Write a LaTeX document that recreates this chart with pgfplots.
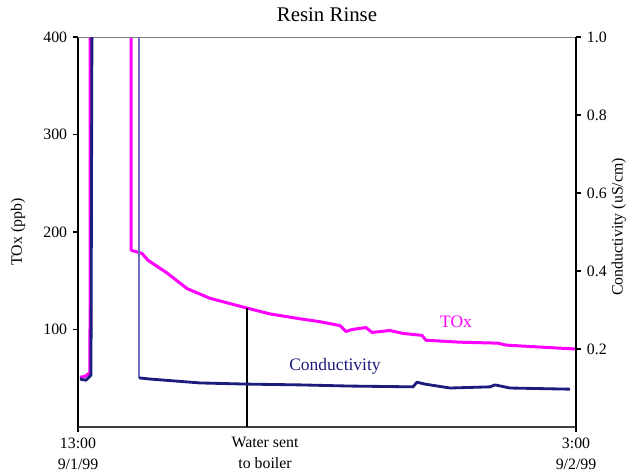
\documentclass[border=0pt]{standalone}
\usepackage{fontspec}
\setmainfont{Liberation Serif}
\usepackage{pgfplots}
\pgfplotsset{compat=1.18}

\definecolor{tox}{RGB}{255,0,255}
\definecolor{cond}{RGB}{28,28,124}
\definecolor{condlight}{RGB}{112,112,192}

\begin{document}
\begin{tikzpicture}
% left axis: TOx
\begin{axis}[
  scale only axis,
  width=298.8pt, height=234pt,
  xmin=0, xmax=14,
  ymin=0, ymax=400,
  axis x line*=bottom,
  axis y line*=left,
  x axis line style={black!75, line width=0.8pt},
  y axis line style={black, line width=0.8pt},
  tick align=outside,
  major tick length=3pt,
  tick style={black, line width=0.8pt},
  xtick={0,14},
  xticklabels={13:00\\9/1/99, 3:00\\9/2/99},
  xticklabel style={align=center, font=\fontsize{9.5}{12.6}\selectfont},
  ytick={100,200,300,400},
  yticklabel style={font=\fontsize{9.5}{11}\selectfont},
  /pgf/number format/assume math mode=true,
]
\addplot[tox, line width=1.8pt, line join=round] coordinates {
  (0.056,51)(0.197,52)(0.309,55)(0.337,55)(0.34,420)(1.49,420)(1.49,182)
  (1.518,181)(1.799,178)(1.968,171)(2.502,158)(3.064,142)(3.711,132)
  (4.751,122)(5.397,116)(6.241,111)(6.803,108)(7.365,104)(7.534,98)
  (7.703,100)(8.096,102)(8.265,97)(8.771,99)(9.136,96)(9.671,94)
  (9.783,89)(10.739,87)(11.807,86)(12.031,84)(12.987,82)(14.0,80)
};
\addplot[black, line width=1.1pt] coordinates {(4.751,0)(4.751,122)};
\draw[gray, line width=1pt] (rel axis cs:0,1) -- (rel axis cs:1,1);
\end{axis}
% right axis: conductivity
\begin{axis}[
  scale only axis,
  width=298.8pt, height=234pt,
  xmin=0, xmax=14,
  ymin=0, ymax=1,
  axis x line=none,
  axis y line*=right,
  y axis line style={black, line width=0.8pt},
  tick align=outside,
  major tick length=3pt,
  tick style={black, line width=0.8pt},
  ytick={0.2,0.4,0.6,0.8,1.0},
  yticklabel style={font=\fontsize{9.5}{11}\selectfont,
    /pgf/number format/fixed, /pgf/number format/fixed zerofill,
    /pgf/number format/precision=1},
  /pgf/number format/assume math mode=true,
]
\addplot[cond, line width=1.7pt, line join=round] coordinates {
  (0.056,0.123)(0.225,0.120)(0.365,0.133)(0.394,1.1)
};
\addplot[condlight, line width=1.1pt] coordinates {(1.715,1.1)(1.715,0.126)};
\addplot[cond, line width=1.7pt, line join=round] coordinates {
  (1.715,0.126)(2.024,0.123)(3.43,0.113)(4.751,0.110)(6.241,0.108)
  (7.647,0.105)(9.418,0.103)(9.53,0.115)(9.614,0.113)(9.755,0.110)
  (10.458,0.100)(11.582,0.103)(11.723,0.108)(12.144,0.100)(13.831,0.097)
};
\end{axis}
% texts
\node[font=\fontsize{12.5}{14}\selectfont] at (149.4pt,247.2pt) {Resin Rinse};
\node[rotate=90, font=\fontsize{9.5}{11}\selectfont] at (-36pt,117pt) {TOx (ppb)};
\node[rotate=90, font=\fontsize{9.5}{11}\selectfont] at (324.5pt,120pt) {Conductivity (uS/cm)};
\node[tox, font=\fontsize{10.5}{12}\selectfont] at (226.8pt,63pt) {TOx};
\node[cond, font=\fontsize{10.5}{12}\selectfont] at (154.2pt,36.6pt) {Conductivity};
\node[anchor=north, align=center, inner sep=0pt, font=\fontsize{9.5}{12.6}\selectfont]
  at (112.2pt,-6pt) {Water sent\\to boiler};
\pgfresetboundingbox
\path[use as bounding box] (-46.8pt,-28.8pt) rectangle (329.4pt,256.2pt);
\end{tikzpicture}
\end{document}
